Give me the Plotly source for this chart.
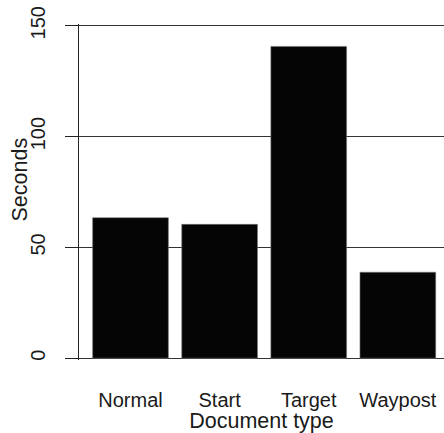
import plotly.graph_objects as go

categories = ["Normal", "Start", "Target", "Waypost"]
seconds = [63.4, 60.4, 140.7, 38.8]
y_ticks = [0, 50, 100, 150]

W, H = 444, 433
left, right = 79, 444
y0_px, y150_px = 358.3, 25.7
pad_units = 0.8
px_per_unit = (y0_px - y150_px) / 150
top = y150_px - pad_units * px_per_unit
bottom = y0_px + pad_units * px_per_unit

fig = go.Figure(go.Bar(
    x=categories, y=seconds, width=0.85,
    marker=dict(color="#050505", line=dict(color="#777777", width=0.6)),
))

font = "Liberation Sans, Arial, sans-serif"
fig.update_layout(
    width=W, height=H,
    margin=dict(l=left, r=W - right, t=top, b=H - bottom, pad=0, autoexpand=False),
    paper_bgcolor="white", plot_bgcolor="white",
    showlegend=False,
    font=dict(family=font, color="#222222", size=20),
    xaxis=dict(
        type="category", range=[-0.578, 3.518], automargin=False,
        showgrid=False, showline=False, zeroline=False, ticks="",
        tickfont=dict(size=20, color="#1a1a1a"),
        ticklabelstandoff=26, ticklabeloverflow="allow",
        title=dict(text="Document type", font=dict(size=21.5, color="#1a1a1a"), standoff=0),
    ),
    yaxis=dict(
        range=[-pad_units, 150 + pad_units], automargin=False,
        tickvals=y_ticks, ticktext=[str(v) for v in y_ticks],
        showgrid=True, gridcolor="#333333", gridwidth=1,
        zeroline=False,
        showline=True, linecolor="#222222", linewidth=1,
        ticks="outside", ticklen=13, tickcolor="#222222", tickwidth=1,
        tickangle=-90, tickfont=dict(size=20, color="#1a1a1a"),
        ticklabelstandoff=12, ticklabeloverflow="allow",
    ),
    annotations=[dict(
        text="Seconds", textangle=-90, showarrow=False,
        xref="paper", yref="paper", x=(20.5 - left) / (right - left),
        y=(bottom - 180) / (bottom - top), xanchor="center", yanchor="middle",
        font=dict(size=21.5, color="#1a1a1a", family=font),
    )],
)

# Remove the default page margin so the figure fills the window exactly.
fig.write_html(
    "out.html",
    config={"displayModeBar": False},
    post_script="document.body.style.margin='0';document.body.style.overflow='hidden';",
)
